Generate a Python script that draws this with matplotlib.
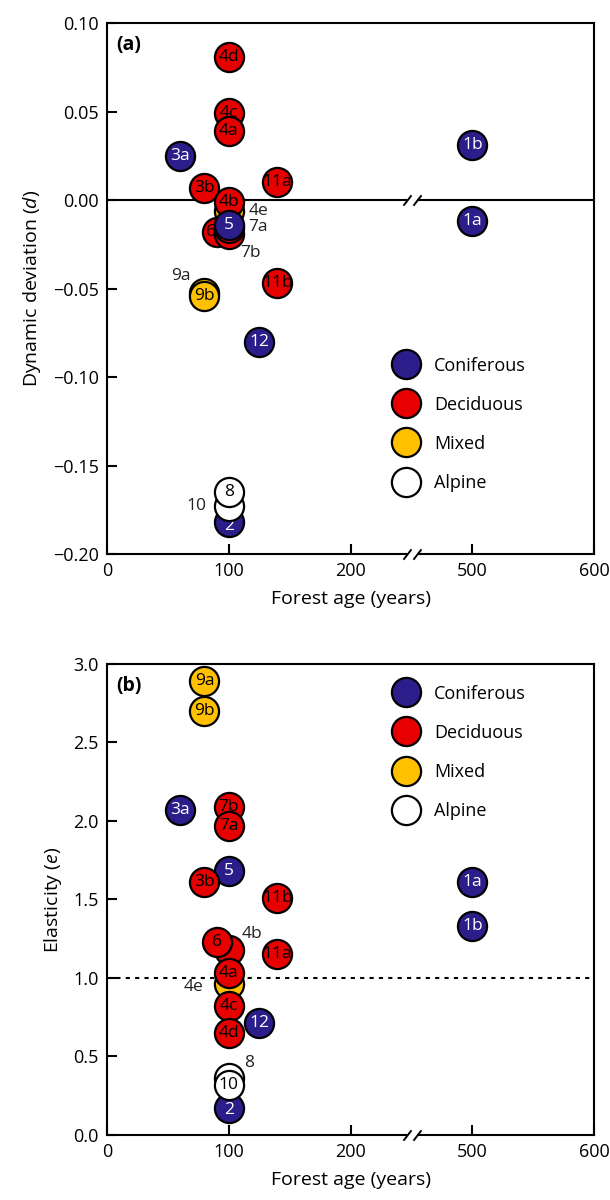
import matplotlib
matplotlib.use('Agg')
import matplotlib.pyplot as plt
from matplotlib.lines import Line2D

plt.rcParams['font.family'] = ['Open Sans', 'DejaVu Sans']
plt.rcParams['mathtext.fontset'] = 'custom'
plt.rcParams['mathtext.it'] = 'Open Sans:italic'
plt.rcParams['mathtext.rm'] = 'Open Sans'

# Site data
sites = ['1a', '1b', '2', '3a', '3b', '4a', '4b', '4c', '4d', '4e', '5',
         '6', '7a', '7b', '8', '9a', '9b', '10', '11a', '11b', '12']
forest = ['Coniferous', 'Coniferous', 'Coniferous', 'Coniferous', 'Deciduous',
          'Deciduous', 'Deciduous', 'Deciduous', 'Deciduous', 'Mixed', 'Coniferous',
          'Deciduous', 'Deciduous', 'Deciduous', 'Alpine', 'Mixed', 'Mixed', 'Alpine',
          'Deciduous', 'Deciduous', 'Coniferous']
age = [500, 500, 100, 60, 80, 100, 100, 100, 100, 100, 100,
       90, 100, 100, 100, 80, 80, 100, 140, 140, 125]
dyn_dev = [-0.012, 0.031, -0.182, 0.025, 0.007, 0.039, -0.001, 0.049, 0.081, -0.006, -0.014,
           -0.018, -0.016, -0.019, -0.165, -0.0525, -0.054, -0.173, 0.010, -0.047, -0.080]
elasticity = [1.61, 1.33, 0.17, 2.07, 1.61, 1.03, 1.18, 0.82, 0.65, 0.96, 1.68,
              1.23, 1.97, 2.09, 0.36, 2.89, 2.70, 0.32, 1.15, 1.51, 0.71]

types = ['Coniferous', 'Deciduous', 'Mixed', 'Alpine']
colors = {'Coniferous': '#2b1d8a', 'Deciduous': '#e60000', 'Mixed': '#ffc000', 'Alpine': 'white'}
txt_colors = {'Coniferous': 'white', 'Deciduous': 'black', 'Mixed': 'black', 'Alpine': 'black'}

# drawing order (later ones sit on top)
order_a = ['1a', '1b', '3a', '3b', '11a', '11b', '12', '4d', '4c', '4a', '6', '7b', '7a',
           '4e', '4b', '5', '9a', '9b', '2', '10', '8']
order_b = ['1a', '1b', '3a', '5', '3b', '11a', '11b', '12', '9a', '9b', '7b', '7a', '4b',
           '6', '4e', '4a', '4c', '4d', '2', '8', '10']

# labels that sit outside their (hidden) circle: offset in points, ha
outside_a = {'4e': (14, 0, 'left'), '7a': (14, 1, 'left'), '7b': (8, -14, 'left'),
             '9a': (-10, 12, 'right'), '10': (-16, 0, 'right')}
outside_b = {'4b': (9, 11, 'left'), '4e': (-18, -2, 'right'), '8': (11, 11, 'left')}
inner_shift_a = {'6': (-4, 0), '2': (0, -3)}
inner_shift_b = {'2': (0, -1)}


def xpos(a):
    # broken x axis: 200-500 gap collapsed
    return a if a < 250 else a - 200


def axis_break(ax, y, transform):
    ax.plot([246, 255], [y, y], color='white', lw=4, solid_capstyle='butt',
            transform=transform, clip_on=False, zorder=50)
    ax.plot([246, 255], [y, y], ls='none', marker=[(-1, -1.3), (1, 1.3)], ms=7.5,
            mec='black', mfc='none', mew=1.4, transform=transform, clip_on=False, zorder=51)


def draw_points(ax, values, order, outside, shifts):
    for k, s in enumerate(order):
        i = sites.index(s)
        x, y = xpos(age[i]), values[i]
        ax.scatter(x, y, s=440, color=colors[forest[i]], edgecolor='black',
                   linewidth=1.6, zorder=10 + 2 * k, clip_on=False)
        if s in outside:
            dx, dy, ha = outside[s]
            ax.annotate(s, (x, y), xytext=(dx, dy), textcoords='offset points',
                        ha=ha, va='center', fontsize=12.5, color='#222222', zorder=200)
        else:
            dx, dy = shifts.get(s, (0, 0))
            ax.annotate(s, (x, y), xytext=(dx, dy), textcoords='offset points',
                        ha='center', va='center', fontsize=12.5,
                        color=txt_colors[forest[i]], zorder=11 + 2 * k)


def style_axes(ax):
    ax.set_xlim(0, 400)
    ax.set_xticks([0, 100, 200, 300, 400])
    ax.set_xticklabels(['0', '100', '200', '500', '600'])
    for sp in ax.spines.values():
        sp.set_linewidth(1.5)
    ax.tick_params(direction='in', length=7, width=1.5, labelsize=13, pad=6)
    ax.set_xlabel('Forest age (years)', fontsize=14, labelpad=7)
    axis_break(ax, 0, ax.get_xaxis_transform())


def add_legend(ax, anchor):
    handles = [Line2D([], [], ls='none', marker='o', ms=21, mfc=colors[t], mec='black',
                      mew=1.6) for t in types]
    ax.legend(handles, types, loc='upper left', bbox_to_anchor=anchor, frameon=False,
              fontsize=13, borderpad=0, borderaxespad=0, handlelength=1.4,
              handletextpad=0.85, labelspacing=1.17)


fig = plt.figure(figsize=(6.1, 12), dpi=100)
ax1 = fig.add_axes([0.1754, 0.5383, 0.7984, 0.4425])
ax2 = fig.add_axes([0.1754, 0.0542, 0.7984, 0.3925])

# (a) dynamic deviation
ax1.axhline(0, color='black', lw=1.5, zorder=1)
axis_break(ax1, 0, ax1.transData)
draw_points(ax1, dyn_dev, order_a, outside_a, inner_shift_a)
ax1.set_ylim(-0.20, 0.10)
ax1.set_yticks([-0.20, -0.15, -0.10, -0.05, 0.0, 0.05, 0.10])
ax1.set_yticklabels(['\u22120.20', '\u22120.15', '\u22120.10', '\u22120.05', '0.00', '0.05', '0.10'])
ax1.set_ylabel('Dynamic deviation ($\\mathit{d}$)', fontsize=14, labelpad=7)
style_axes(ax1)
ax1.text(0.02, 0.978, '(a)', transform=ax1.transAxes, fontsize=14, fontweight='bold',
         va='top', ha='left')
add_legend(ax1, (0.588, 0.372))

# (b) elasticity
ax2.axhline(1, color='black', lw=1.5, ls=(0, (2, 2.5)), zorder=1)
draw_points(ax2, elasticity, order_b, outside_b, inner_shift_b)
ax2.set_ylim(0, 3.0)
ax2.set_yticks([0, 0.5, 1.0, 1.5, 2.0, 2.5, 3.0])
ax2.set_yticklabels(['0.0', '0.5', '1.0', '1.5', '2.0', '2.5', '3.0'])
ax2.set_ylabel('Elasticity ($\\mathit{e}$)', fontsize=14, labelpad=7)
style_axes(ax2)
ax2.text(0.02, 0.975, '(b)', transform=ax2.transAxes, fontsize=14, fontweight='bold',
         va='top', ha='left')
add_legend(ax2, (0.588, 0.956))

fig.savefig('out.png', dpi=100)
